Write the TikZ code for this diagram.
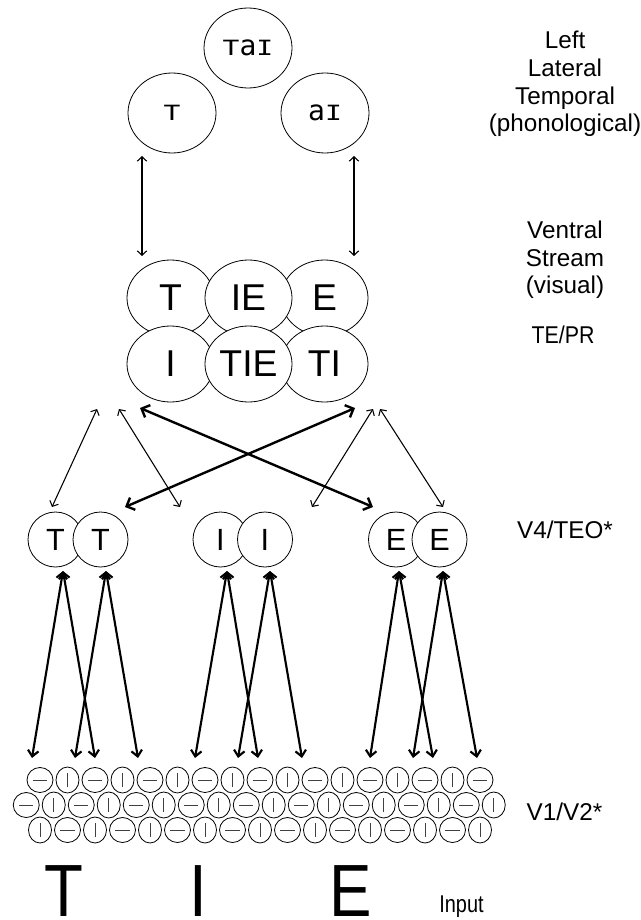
\documentclass[tikz,border=0pt]{standalone}
\usepackage{fontspec}
\usepackage{graphicx}
\setmainfont{Liberation Sans}
\newfontfamily\monof{DejaVu Sans Mono}
\usetikzlibrary{shapes.geometric,arrows.meta}
\newcommand{\smT}{\scalebox{1}[0.75]{T}}
\newcommand{\smI}{\scalebox{1}[0.75]{I}}
\begin{document}
\begin{tikzpicture}[x=0.75pt,y=-0.75pt,
  phono/.style={ellipse,draw,line width=0.6pt,inner sep=0pt,minimum width=66pt,minimum height=60pt,font=\monof\fontsize{21}{21}\selectfont},
  vent/.style={ellipse,draw,line width=0.6pt,inner sep=0pt,fill=white,minimum width=65.25pt,minimum height=57pt,font=\fontsize{28}{28}\selectfont},
  vfour/.style={circle,draw,line width=0.6pt,inner sep=0pt,fill=white,minimum size=41.25pt,font=\fontsize{23}{23}\selectfont},
  hcell/.style={ellipse,draw,line width=0.6pt,inner sep=0pt,minimum width=19.5pt,minimum height=18.75pt,
     path picture={\draw[line width=0.6pt,black!75] ([xshift=-5.3pt]path picture bounding box.center) -- ([xshift=5.3pt]path picture bounding box.center);}},
  vcell/.style={ellipse,draw,line width=0.6pt,inner sep=0pt,minimum width=17.25pt,minimum height=19.5pt,
     path picture={\draw[line width=0.6pt,black!75] ([yshift=-5.3pt]path picture bounding box.center) -- ([yshift=5.3pt]path picture bounding box.center);}},
  lab/.style={anchor=base,inner sep=0pt,font=\fontsize{18.2}{21}\selectfont},
  big/.style={anchor=base,inner sep=0pt,font=\fontsize{55.5}{57}\selectfont},
  thinarr/.style={line width=0.8pt,arrows={Straight Barb[length=3.3pt,width=7pt]-Straight Barb[length=3.3pt,width=7pt]}},
  crossarr/.style={line width=1.8pt,arrows={Straight Barb[length=5pt,width=10pt]-Straight Barb[length=5pt,width=10pt]}},
  feedarr/.style={line width=1.6pt,arrows={Straight Barb[length=4.5pt,width=8pt]-Straight Barb[length=4.5pt,width=8pt]}}
]
\useasboundingbox (0,0) rectangle (641,920);

% phonological layer
\node[phono] (tai) at (248,48) {\smT a\smI};
\node[phono] (pT) at (172,113) {\smT};
\node[phono] (pai) at (325,113) {a\smI};

% ventral stream
\node[vent] (vT) at (170.5,298) {T};
\node[vent] (vE) at (324.5,298) {E};
\node[vent] (vIE) at (248.5,298) {IE};
\node[vent] (vI) at (170.5,364) {I};
\node[vent] (vTI) at (324.5,364) {TI};
\node[vent] (vTIE) at (248.5,364) {TIE};

% V4
\node[vfour] (T1) at (55.5,539.5) {T};
\node[vfour] (T2) at (100.5,539.5) {T};
\node[vfour] (I1) at (220.5,539.5) {I};
\node[vfour] (I2) at (265,539.5) {I};
\node[vfour] (E1) at (396,539.5) {E};
\node[vfour] (E2) at (439.5,539.5) {E};

% V1/V2 grid
\foreach \k [evaluate=\k as \x using 40+27.5*\k] in {0,...,16} {
  \ifodd\k \node[vcell] (ra\k) at (\x,780) {}; \else \node[hcell] (ra\k) at (\x,780) {}; \fi
  \ifodd\k \node[hcell] (rc\k) at (\x,830) {}; \else \node[vcell] (rc\k) at (\x,830) {}; \fi
}
\foreach \k [evaluate=\k as \x using 26.25+27.5*\k] in {0,...,17} {
  \ifodd\k \node[vcell] (rb\k) at (\x,805) {}; \else \node[hcell] (rb\k) at (\x,805) {}; \fi
}

% phono <-> ventral
\coordinate (pl1) at (142,156); \coordinate (pl2) at (142,256);
\coordinate (pr1) at (354,156); \coordinate (pr2) at (354,256);
\draw[thinarr] (pl1) -- (pl2);
\draw[thinarr] (pr1) -- (pr2);

% ventral <-> V4
\coordinate (u1) at (97,409);  \coordinate (d1) at (52,507);
\coordinate (u2) at (119,409); \coordinate (d2) at (180,507);
\coordinate (u3) at (140,408); \coordinate (d3) at (373,507);
\coordinate (u4) at (355,408); \coordinate (d4) at (125,507);
\coordinate (u5) at (373,409); \coordinate (d5) at (312,507);
\coordinate (u6) at (380,409); \coordinate (d6) at (443,507);
\draw[thinarr] (u1) -- (d1);
\draw[thinarr] (u2) -- (d2);
\draw[crossarr] (u3) -- (d3);
\draw[crossarr] (u4) -- (d4);
\draw[thinarr] (u5) -- (d5);
\draw[thinarr] (u6) -- (d6);

% V4 <-> V1
\foreach \n/\t/\a/\b in {T1/63/32/95, T2/106/75/138, I1/227/195/258, I2/270/238/302, E1/399/370/433, E2/443/413/477} {
  \coordinate (top\n) at (\t,571);
  \coordinate (la\n) at (\a,758);
  \coordinate (lb\n) at (\b,758);
  \draw[feedarr] (top\n) -- (la\n);
  \draw[feedarr] (top\n) -- (lb\n);
}

% labels
\node[lab] (l1) at (565,49) {Left};
\node[lab] (l2) at (565,77) {Lateral};
\node[lab] (l3) at (565,105) {Temporal};
\node[lab] (l4) at (565,132) {(phonological)};
\node[lab] (v1) at (565,238) {Ventral};
\node[lab] (v2) at (565,266) {Stream};
\node[lab] (v3) at (565,293) {(visual)};
\node[lab] (tepr) at (563,343) {\scalebox{0.88}[1]{TE/PR}};
\node[lab] (v4lab) at (565,538) {V4/TEO*};
\node[lab] (v1lab) at (564.5,820) {V1/V2*};
\node[lab] (inlab) at (461.5,912) {\scalebox{0.82}[1]{Input}};

% input letters
\node[big] (bT) at (64,916) {\scalebox{0.86}[1]{T}};
\node[big] (bI) at (198.5,916) {\scalebox{0.86}[1]{I}};
\node[big] (bE) at (351,916) {\scalebox{0.86}[1]{E}};
\end{tikzpicture}
\end{document}
